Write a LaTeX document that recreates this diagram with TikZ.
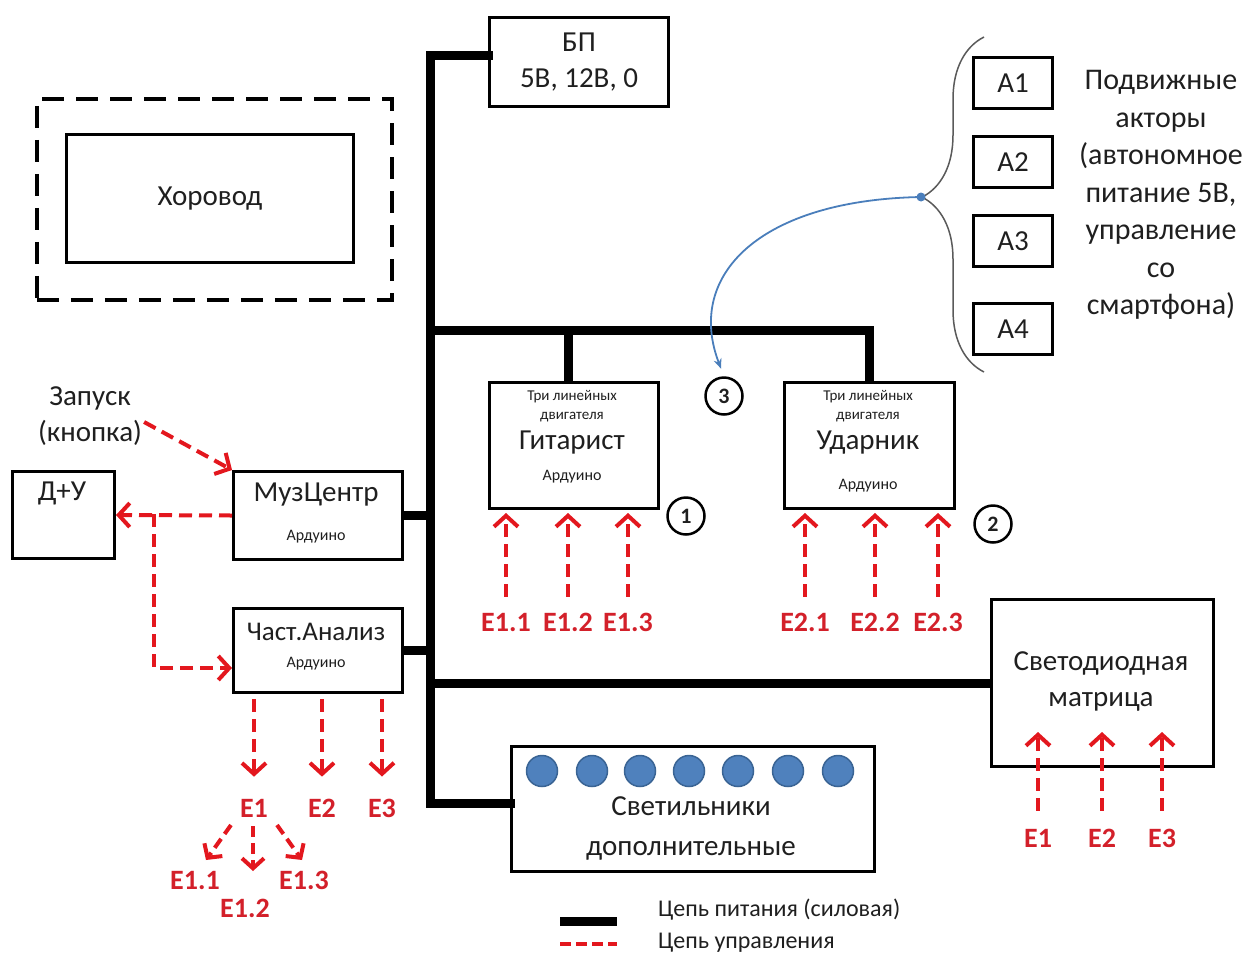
\documentclass[tikz,border=0pt]{standalone}
\usepackage{fontspec}
\setmainfont{Carlito}
\usetikzlibrary{arrows.meta,decorations.pathreplacing,calc}

\definecolor{ink}{HTML}{1F1F1F}
\definecolor{ctrl}{HTML}{E3171E}
\definecolor{lbl}{HTML}{D3202A}
\definecolor{lamp}{HTML}{4F81BD}
\definecolor{lampedge}{HTML}{3A6494}
\definecolor{link}{HTML}{4A7EBB}
\definecolor{bracec}{HTML}{5A5A5A}

\newcommand\szMain{\fontsize{29}{36}\selectfont}
\newcommand\szRight{\fontsize{30}{37.5}\selectfont}
\newcommand\szSmall{\fontsize{16}{19}\selectfont}
\newcommand\szTiny{\fontsize{15}{19}\selectfont}
\newcommand\szLeg{\fontsize{24}{30}\selectfont}

\begin{document}
\begin{tikzpicture}[x=1pt,y=-1pt,
  every node/.style={inner sep=0pt, text=ink},
  box/.style={draw=black, line width=3pt, anchor=north west, font=\szMain, align=center},
  zonebox/.style={draw=black, line width=3.5pt, dash pattern=on 22pt off 12pt, anchor=north west},
  power/.style={draw=black, line width=9pt},
  ctl/.style={draw=ctrl, line width=4pt, dash pattern=on 13pt off 7pt,
    -{Straight Barb[length=11pt,width=24pt]}},
  ctlthin/.style={ctl, line width=4pt, dash pattern=on 11pt off 6pt,
    -{Straight Barb[length=10pt,width=22pt]}},
  num/.style={circle, draw=black, line width=2.5pt, minimum size=37pt,
    font=\bfseries\fontsize{22}{22}\selectfont},
  elbl/.style={text=lbl, font=\bfseries\fontsize{28}{28}\selectfont},
  lampc/.style={circle, fill=lamp, draw=lampedge, line width=1.5pt, minimum size=31pt},
]
\useasboundingbox (0,0) rectangle (1247,956);

% ---------- blocks ----------
\node[zonebox, minimum width=355, minimum height=201] (zone) at (35,97) {};
\node[box, minimum width=287, minimum height=128] (horo) at (65,133) {Хоровод};

\node[box, minimum width=179, minimum height=89] (bp) at (488,16) {БП\\5В, 12В, 0};

\node[box, minimum width=169, minimum height=126] (git) at (488,381) {};
\node[font=\szTiny, align=center] (gitT) at (572,406) {Три линейных\\двигателя};
\node[font=\szMain] (gitN) at (572,443) {Гитарист};
\node[font=\szSmall] (gitA) at (572,477) {Ардуино};

\node[box, minimum width=170, minimum height=126] (udar) at (783,381) {};
\node[font=\szTiny, align=center] (udarT) at (868,406) {Три линейных\\двигателя};
\node[font=\szMain] (udarN) at (868,443) {Ударник};
\node[font=\szSmall] (udarA) at (868,486) {Ардуино};

\node[box, minimum width=169, minimum height=88] (muz) at (232,470) {};
\node[font=\szMain] (muzN) at (316,495) {МузЦентр};
\node[font=\szSmall] (muzA) at (316,537) {Ардуино};

\node[box, minimum width=169, minimum height=84] (ana) at (232,607) {};
\node[font=\fontsize{27}{30}\selectfont] (anaN) at (316,632) {Част.Анализ};
\node[font=\szSmall] (anaA) at (316,664) {Ардуино};

\node[box, minimum width=102, minimum height=87] (du) at (11,470) {};
\node[font=\szMain] (duN) at (62,493) {Д+У};

\node[box, minimum width=222, minimum height=167] (mat) at (990,598) {};
\node[font=\szMain, align=center] (matN) at (1101,681) {Светодиодная\\матрица};

\node[box, minimum width=363, minimum height=125] (svet) at (510,745) {};
\node[align=center, font=\fontsize{29}{40}\selectfont] (svetN) at (691,828) {Светильники\\дополнительные};
\foreach \i/\x in {1/542,2/592,3/640,4/689,5/738,6/788,7/838}
  \node[lampc] (lamp\i) at (\x,771) {};

\node[box, minimum width=79, minimum height=51] (a1) at (972,56) {А1};
\node[box, minimum width=79, minimum height=51] (a2) at (972,135) {А2};
\node[box, minimum width=79, minimum height=51] (a3) at (972,214) {А3};
\node[box, minimum width=79, minimum height=51] (a4) at (972,302) {А4};
\node[font=\szRight, align=center] (actors) at (1161,195)
  {Подвижные\\акторы\\(автономное\\питание 5В,\\управление\\со\\смартфона)};

\node[num] (n1) at (686,516) {1};
\node[num] (n2) at (993,524) {2};
\node[num] (n3) at (724,396) {3};

\node[font=\szMain, align=center] (zap) at (90,416) {Запуск\\(кнопка)};

% ---------- power circuit ----------
\coordinate (busTop) at (430,55);
\coordinate (busBot) at (430,803);
\coordinate (busMid) at (430,330);
\draw[power, line cap=rect] (bp.west |- busTop) -- (busTop) -- (busBot) -- (svet.west |- busBot);
\draw[power] (busMid) -- (udar.north |- busMid) -- (udar.north);
\draw[power] ($(git.north |- busMid)+(-6,0)$) -- ($(git.north)+(-6,0)$);
\draw[power] (muz.east) -- (muz.east -| busTop);
\draw[power] (ana.east) -- (ana.east -| busTop);
\draw[power] (mat.west) -- (mat.west -| busTop);

% ---------- control circuit ----------
\draw[ctl] ($(zap.east)+(2,6)$) -- (muz.north west);
\draw[ctl] (muz.west) -- (du.east);
\coordinate (split) at (154,514);
\draw[ctl] (split) |- ($(ana.south west)+(0,-26)$);

\node[elbl] (e1) at (254,808) {E1};
\node[elbl] (e2) at (322,808) {E2};
\node[elbl] (e3) at (382,808) {E3};
\draw[ctl, shorten <=5pt, shorten >=22pt] (ana.south -| e1) -- (e1.north);
\draw[ctl, shorten <=5pt, shorten >=22pt] (ana.south -| e2) -- (e2.north);
\draw[ctl, shorten <=5pt, shorten >=22pt] (ana.south -| e3) -- (e3.north);

% E1 splits into three sub-signals
\node[elbl] (e11) at (195,880) {E1.1};
\node[elbl] (e12) at (245,908) {E1.2};
\node[elbl] (e13) at (304,880) {E1.3};
\coordinate (s1a) at (231,825);
\coordinate (s1b) at (206,860);
\coordinate (s2a) at (253,826);
\coordinate (s2b) at (253,871);
\coordinate (s3a) at (277,825);
\coordinate (s3b) at (302,860);
\draw[ctlthin] (s1a) -- (s1b);
\draw[ctlthin] (s2a) -- (s2b);
\draw[ctlthin] (s3a) -- (s3b);

\foreach \n/\x/\t in {g1/506/E1.1, g2/568/E1.2, g3/628/E1.3, u1/805/E2.1, u2/875/E2.2, u3/938/E2.3}
  \node[elbl] (\n) at (\x,622) {\t};
\foreach \n in {g1,g2,g3}
  \draw[ctl, shorten <=16pt, shorten >=3pt] (\n.north) -- (\n.north |- git.south);
\foreach \n in {u1,u2,u3}
  \draw[ctl, shorten <=16pt, shorten >=3pt] (\n.north) -- (\n.north |- udar.south);

\foreach \n/\x/\t in {m1/1038/E1, m2/1102/E2, m3/1162/E3}
  \node[elbl] (\n) at (\x,838) {\t};
\foreach \n in {m1,m2,m3}
  \draw[ctl, shorten <=18pt] (\n.north) -- ($(\n.north |- mat.south)+(0,-36)$);

% ---------- mobile actors ----------
\draw[bracec, line width=1.5pt, decorate,
  decoration={brace, amplitude=62pt, aspect=0.522}] (984,372) -- (984,37);
\coordinate (tip) at (921,197);
\fill[link] (tip) circle (4.5);
\draw[link, line width=1.8pt, shorten >=8pt, -{Stealth[length=10pt,width=8pt]}]
  (tip) .. controls (760,200) and (685,275) .. (n3.north);

% ---------- legend ----------
\coordinate (lgA) at (560,921);
\coordinate (lgB) at (617,921);
\coordinate (lgC) at (560,944);
\coordinate (lgD) at (617,944);
\draw[power] (lgA) -- (lgB);
\draw[draw=ctrl, line width=4pt, dash pattern=on 11pt off 5pt] (lgC) -- (lgD);
\node[font=\szLeg, anchor=west] (legP) at (658,910) {Цепь питания (силовая)};
\node[font=\szLeg, anchor=west] (legC) at (658,943) {Цепь управления};
\end{tikzpicture}
\end{document}
